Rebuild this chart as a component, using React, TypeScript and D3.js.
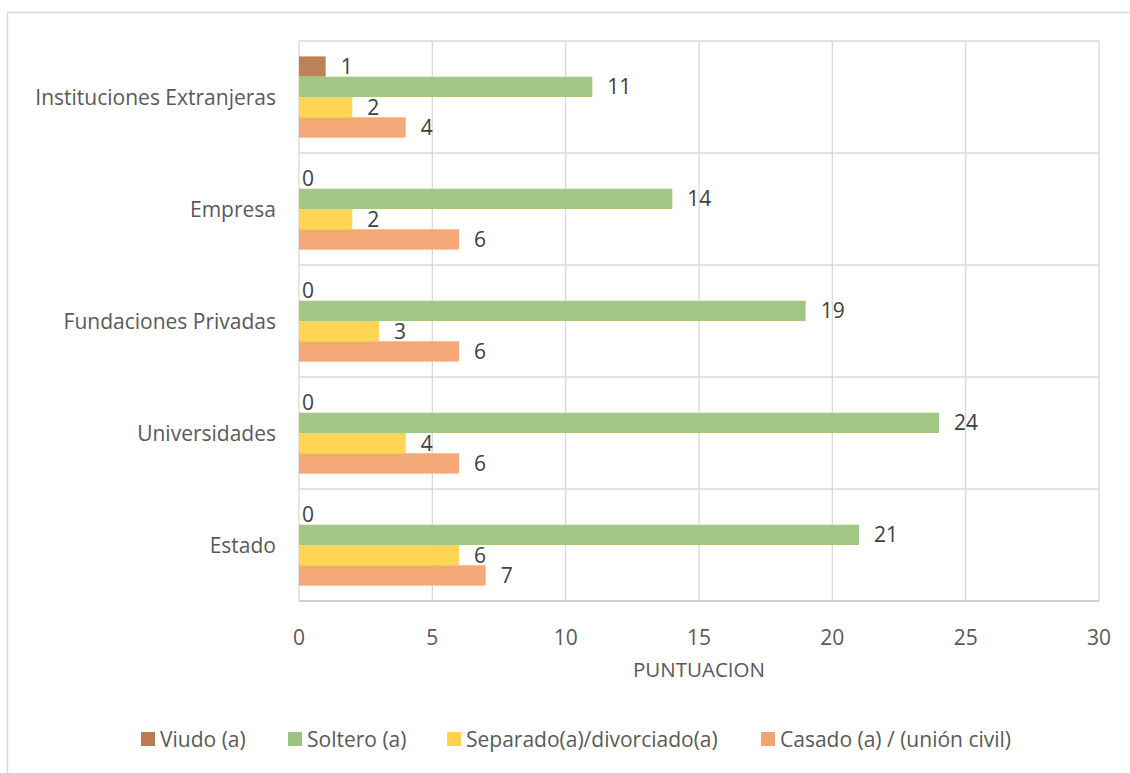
import React from "react";
import * as d3 from "d3";

const categories = ["Instituciones Extranjeras", "Empresa", "Fundaciones Privadas", "Universidades", "Estado"];
const seriesNames = ["Viudo (a)", "Soltero (a)", "Separado(a)/divorciado(a)", "Casado (a) / (unión civil)"];
const viudo = [1, 0, 0, 0, 0];
const soltero = [11, 14, 19, 24, 21];
const separado = [2, 2, 3, 4, 6];
const casado = [4, 6, 6, 6, 7];
const xTicks = [0, 5, 10, 15, 20, 25, 30];
const colors = ["#B97B4F", "#9CC47E", "#FFD34B", "#F1A46F"];
const seriesValues = [viudo, soltero, separado, casado];

const W = 1130, H = 773;
const plot = { left: 299, right: 1099, top: 41, bottom: 601 };
const font = "'Open Sans', sans-serif";
const textColor = "#595959";
const FS = 21;

export default function App() {
  const x = d3.scaleLinear().domain([0, 30]).range([plot.left, plot.right]);
  const y = d3.scaleBand<string>().domain(categories).range([plot.top, plot.bottom]).paddingInner(0).paddingOuter(0);
  const inner = d3.scaleBand<number>().domain(d3.range(seriesNames.length)).range([0, y.bandwidth()]).paddingInner(0).paddingOuter(0.76);

  const legendX = [141, 288, 447, 761];

  return (
    <svg width={W} height={H} style={{ position: "absolute", left: 0, top: 0 }}>
      <rect x={0} y={0} width={W} height={H} fill="#fff" />
      <rect x={7.5} y={12.5} width={W + 20} height={H} fill="none" stroke="#D9D9D9" strokeWidth={1.5} />
      {xTicks.map((t) => (
        <line key={"g" + t} x1={x(t)} x2={x(t)} y1={plot.top} y2={plot.bottom} stroke="#D9D9D9" strokeWidth={1.3} />
      ))}
      {categories.map((c, i) => (
        <line key={"h" + i} x1={plot.left} x2={plot.right} y1={y(c)!} y2={y(c)!} stroke="#D9D9D9" strokeWidth={1.3} />
      ))}
      <line x1={plot.left} x2={plot.right} y1={plot.bottom} y2={plot.bottom} stroke="#BFBFBF" strokeWidth={1.3} />
      {categories.map((c, ci) => (
        <g key={c}>
          {seriesValues.map((vals, si) => {
            const by = y(c)! + inner(si)!;
            const v = vals[ci];
            return (
              <g key={si}>
                {v > 0 && (
                  <rect x={x(0)} y={by} width={x(v) - x(0)} height={inner.bandwidth()} fill={colors[si]} fillOpacity={0.95} />
                )}
                <text x={x(v) + (v > 0 ? 15 : 3)} y={by + inner.bandwidth() / 2} dy="0.36em" fontSize={FS} fill="#404040" fontFamily={font}>
                  {v}
                </text>
              </g>
            );
          })}
          <text x={276} y={y(c)! + y.bandwidth() / 2} dy="0.36em" textAnchor="end" fontSize={FS} fill={textColor} fontFamily={font}>
            {c}
          </text>
        </g>
      ))}
      {xTicks.map((t) => (
        <text key={"t" + t} x={x(t)} y={637} dy="0.36em" textAnchor="middle" fontSize={FS} fill={textColor} fontFamily={font}>
          {t}
        </text>
      ))}
      <text x={x(15)} y={670} dy="0.36em" textAnchor="middle" fontSize={FS - 0.5} fill={textColor} fontFamily={font}>
        PUNTUACION
      </text>
      {seriesNames.map((n, i) => (
        <g key={n}>
          <rect x={legendX[i]} y={732} width={14} height={14} fill={colors[i]} />
          <text x={legendX[i] + 19} y={739} dy="0.36em" fontSize={FS} fill={textColor} fontFamily={font}>
            {n}
          </text>
        </g>
      ))}
    </svg>
  );
}
